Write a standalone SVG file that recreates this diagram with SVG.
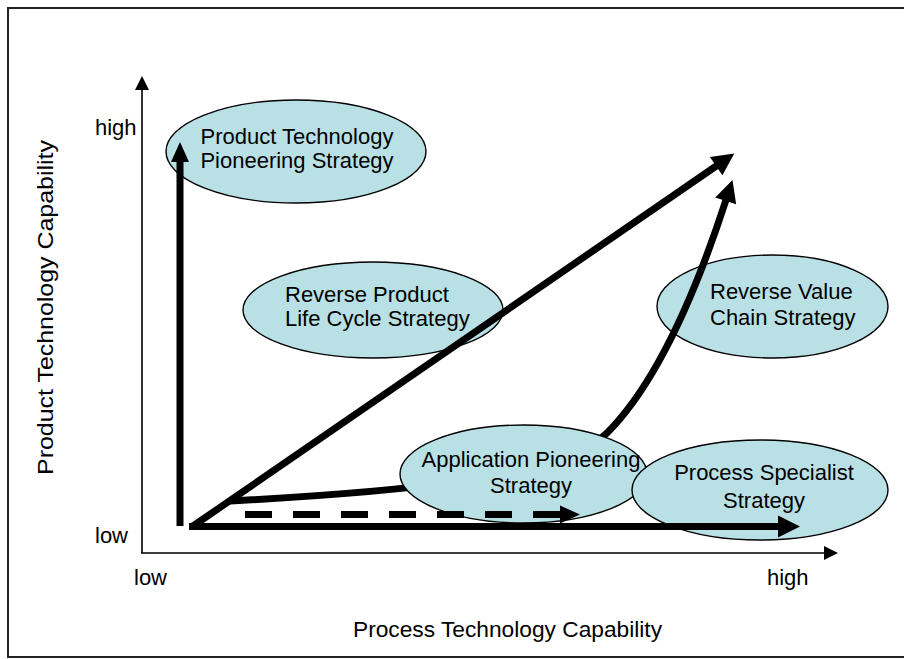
<svg xmlns="http://www.w3.org/2000/svg" width="904" height="659" viewBox="0 0 904 659">
<style>
text{font-family:"Liberation Sans",Arial,sans-serif;fill:#000;}
.lbl{font-size:22px;}
.ax{font-size:22px;}
.node ellipse{fill:#B9E0E4;stroke:#000;stroke-width:1.4;}
.thick{fill:none;stroke:#000;stroke-width:7;}
.axis{fill:none;stroke:#000;stroke-width:1.6;}
</style>
<defs>
<marker id="big" markerUnits="userSpaceOnUse" markerWidth="24" markerHeight="24" refX="1" refY="11" orient="auto" overflow="visible">
<path d="M0,0 L22,11 L0,22 Z" fill="#000"/>
</marker>
<marker id="mid" markerUnits="userSpaceOnUse" markerWidth="22" markerHeight="20" refX="1" refY="9" orient="auto" overflow="visible">
<path d="M0,0 L20,9 L0,18 Z" fill="#000"/>
</marker>
<marker id="small" markerUnits="userSpaceOnUse" markerWidth="16" markerHeight="16" refX="1" refY="7" orient="auto" overflow="visible">
<path d="M0,0 L14,7 L0,14 Z" fill="#000"/>
</marker>
</defs>
<rect x="8" y="8" width="940" height="649" fill="#fff" stroke="#222" stroke-width="2"/>

<g id="axes">
<line class="axis" x1="142" y1="553" x2="142" y2="89" marker-end="url(#small)"/>
<line class="axis" x1="141" y1="553" x2="825" y2="553" marker-end="url(#small)"/>
<text class="ax" x="95" y="135">high</text>
<text class="ax" x="95" y="543">low</text>
<text class="ax" x="134" y="585">low</text>
<text class="ax" x="767" y="585">high</text>
<text class="ax" x="353" y="637" textLength="309" lengthAdjust="spacingAndGlyphs">Process Technology Capability</text>
<text class="ax" x="0" y="0" font-size="23" textLength="335" lengthAdjust="spacingAndGlyphs" transform="translate(53,475) rotate(-90)">Product Technology Capability</text>
</g>

<g id="n1" class="node">
<ellipse cx="296" cy="151.5" rx="130" ry="51.5"/>
<text class="lbl" x="297" y="144" text-anchor="middle">Product Technology</text>
<text class="lbl" x="297" y="168" text-anchor="middle">Pioneering Strategy</text>
</g>

<g id="n2" class="node">
<ellipse cx="373" cy="310" rx="130" ry="48"/>
<text class="lbl" x="285" y="302">Reverse Product</text>
<text class="lbl" x="285" y="326">Life Cycle Strategy</text>
</g>

<g id="n3" class="node">
<ellipse cx="772.5" cy="306.5" rx="115.5" ry="51.5"/>
<text class="lbl" x="710" y="299">Reverse Value</text>
<text class="lbl" x="710" y="325">Chain Strategy</text>
</g>

<g id="connectors">
<line class="thick" x1="180" y1="526" x2="180" y2="161" stroke-width="6" marker-end="url(#mid)"/>
<line class="thick" x1="193" y1="526" x2="717" y2="165.5" marker-end="url(#big)"/>
<path class="thick" d="M230,501 C380,493 560,480 607,433 C660,380 700,280 726,200" stroke-width="6.5" marker-end="url(#big)"/>
</g>

<g id="n4" class="node">
<ellipse cx="523.5" cy="474" rx="123.5" ry="49"/>
<text class="lbl" x="531" y="467" text-anchor="middle">Application Pioneering</text>
<text class="lbl" x="531" y="493" text-anchor="middle">Strategy</text>
</g>

<g id="n5" class="node">
<ellipse cx="760" cy="490" rx="128" ry="50"/>
<text class="lbl" x="764" y="480" text-anchor="middle">Process Specialist</text>
<text class="lbl" x="764" y="508" text-anchor="middle">Strategy</text>
</g>

<g id="connectors-front">
<line class="thick" x1="245" y1="514.5" x2="561" y2="514.5" stroke-width="6" stroke-dasharray="27 21" marker-end="url(#mid)"/>
<line class="thick" x1="189" y1="526.5" x2="779" y2="526.5" marker-end="url(#big)"/>
</g>
</svg>
